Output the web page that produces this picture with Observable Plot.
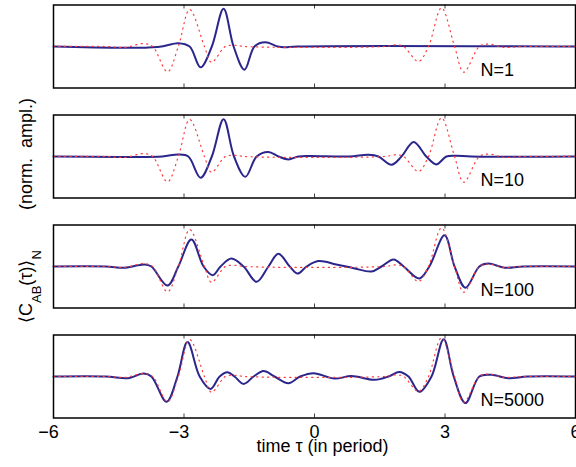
<!DOCTYPE html>
<html><head><meta charset="utf-8">
<script src="https://cdn.jsdelivr.net/npm/d3@7"></script>
<script src="https://cdn.jsdelivr.net/npm/@observablehq/plot@0.6"></script>
<style>
html,body{margin:0;padding:0;background:#fff;overflow:hidden}
#chart{position:relative;width:576px;height:467px}
#chart svg.plot-panel{display:block}
#ylab{position:absolute;left:0;top:0}
</style></head>
<body><div id="chart"></div>
<script>
// ---- tick values / labels ----
const xTicks = [-6, -3, 0, 3, 6];
const panelLabels = ["N=1", "N=10", "N=100", "N=5000"];
const xTitle = "time τ (in period)";

// ---- reference curve (red dotted, same in all panels) ----
const refTau = [-6, -4.8, -4.35, -3.93, -3.72, -3.38, -3.13, -2.87, -2.53, -2.37, -2.05, -1.84, -1.6, 1.6, 1.89, 2.05, 2.39, 2.62, 2.92, 3.22, 3.43, 3.79, 4.0, 4.35, 4.8, 6];
const refAmp = [0, 0, -0.02, 0.07, 0, -0.61, 0, 0.89, 0, -0.38, 0, 0.03, 0, 0, 0.04, 0, -0.36, 0, 0.93, 0, -0.62, 0, 0.06, -0.02, 0, 0];

// ---- averaged correlation, N = 1 ----
const n1Tau = [-6, -3.6, -3.13, -2.87, -2.62, -2.36, -2.09, -1.86, -1.61, -1.38, -1.13, -0.85, -0.7, -0.4, 6];
const n1Amp = [0, -0.01, 0.08, 0, -0.5, 0, 0.91, 0, -0.56, 0, 0.1, 0, -0.02, 0, 0];

// ---- N = 10 ----
const n10Tau = [-6, -4.5, -3.5, -3.13, -2.9, -2.62, -2.36, -2.09, -1.85, -1.59, -1.33, -1.06, -0.83, -0.6, -0.37, -0.1, 0.8, 1.24, 1.47, 1.77, 2.0, 2.28, 2.57, 2.8, 3.03, 3.26, 3.6, 6];
const n10Amp = [0, -0.01, 0, 0.05, 0, -0.51, 0, 0.9, 0, -0.49, 0, 0.11, 0, -0.07, 0, 0.01, 0, 0.04, 0, -0.2, 0, 0.35, 0, -0.19, 0, 0.02, 0, 0];

// ---- N = 100 ----
const n100Tau = [-6, -4.8, -4.37, -3.91, -3.75, -3.38, -3.13, -2.83, -2.55, -2.34, -2.16, -1.91, -1.63, -1.33, -1.06, -0.83, -0.57, -0.39, -0.18, 0.09, 0.5, 0.9, 1.31, 1.54, 1.82, 2.05, 2.41, 2.64, 2.99, 3.22, 3.47, 3.79, 4.0, 4.37, 4.8, 6];
const n100Amp = [0, 0, -0.03, 0.05, 0, -0.46, 0, 0.65, 0, -0.21, 0, 0.19, 0, -0.37, 0, 0.31, 0, -0.17, 0, 0.13, 0.05, -0.04, -0.12, 0, 0.17, 0, -0.29, 0, 0.75, 0, -0.51, 0, 0.07, -0.03, 0, 0];

// ---- N = 5000 ----
const n5000Tau = [-6, -4.8, -4.28, -3.93, -3.75, -3.4, -3.15, -2.92, -2.64, -2.39, -2.18, -2.0, -1.84, -1.63, -1.4, -1.17, -0.92, -0.6, -0.33, -0.02, 0.46, 0.85, 1.38, 1.7, 1.95, 2.16, 2.41, 2.69, 2.97, 3.2, 3.47, 3.79, 4.07, 4.46, 4.9, 6];
const n5000Amp = [0, 0, -0.04, 0.07, 0, -0.61, 0, 0.83, 0, -0.3, 0, 0.1, 0, -0.18, 0, 0.13, 0, -0.16, 0, 0.08, -0.05, 0.01, -0.08, 0, 0.11, 0, -0.37, 0, 0.9, 0, -0.64, 0, 0.04, -0.04, 0, 0];

const seriesTau = [n1Tau, n10Tau, n100Tau, n5000Tau];
const seriesAmp = [n1Amp, n10Amp, n100Amp, n5000Amp];

const toRows = (t, a) => t.map((tau, i) => ({tau, amp: a[i]}));
const ref = toRows(refTau, refAmp);

const BLUE = "#2a268c";
const FONT = "'Liberation Sans', Arial, Helvetica, sans-serif";
const chart = document.getElementById("chart");

seriesTau.forEach((tau, k) => {
  const last = k === seriesTau.length - 1;
  const data = toRows(tau, seriesAmp[k]);
  const marks = [
    Plot.line(data, {x: "tau", y: "amp", curve: "catmull-rom", stroke: BLUE, strokeWidth: 2}),
    Plot.line(ref, {x: "tau", y: "amp", curve: "catmull-rom", stroke: "#ff3a3a", strokeWidth: 1.2, strokeDasharray: "1.2,4.3"}),
    Plot.ruleX(xTicks.slice(1, -1), {insetBottom: 79, stroke: "#444", strokeWidth: 1}),
    Plot.ruleX(xTicks.slice(1, -1), {insetTop: 79, stroke: "#444", strokeWidth: 1}),
    Plot.frame({stroke: "black", strokeWidth: 1.5}),
    Plot.text([panelLabels[k]], {frameAnchor: "bottom-right", textAnchor: "start", lineAnchor: "bottom", dx: -95, dy: -12, fontSize: 18, fill: "black"})
  ];
  if (last) {
    marks.push(
      Plot.text(xTicks.filter(d => d < 0), {x: d => d, text: d => "\u2212" + Math.abs(d), frameAnchor: "bottom", lineAnchor: "top", dy: 7, dx: -5, fontSize: 18, fill: "black"}),
      Plot.text(xTicks.filter(d => d >= 0), {x: d => d, text: d => String(d), frameAnchor: "bottom", lineAnchor: "top", dy: 7, fontSize: 18, fill: "black"}),
      Plot.text([xTitle], {frameAnchor: "bottom", lineAnchor: "top", dy: 21, dx: 8, fontSize: 18, fill: "black"})
    );
  }
  const svg = Plot.plot({
    width: 576,
    height: last ? 137 : 110,
    marginLeft: 53,
    marginRight: 1,
    marginTop: 4.5,
    marginBottom: last ? 49.5 : 22.5,
    x: {domain: [-6, 6], axis: null},
    y: {domain: [-1, 1], axis: null},
    style: {fontFamily: FONT, fontSize: "18px", background: "white", overflow: "visible"},
    marks
  });
  svg.classList.add("plot-panel");
  chart.appendChild(svg);
});

// rotated y-axis label (real text)
const NS = "http://www.w3.org/2000/svg";
const ylab = document.createElementNS(NS, "svg");
ylab.setAttribute("id", "ylab");
ylab.setAttribute("width", "50");
ylab.setAttribute("height", "467");
ylab.style.fontFamily = FONT;
const t1 = document.createElementNS(NS, "text");
t1.setAttribute("transform", "translate(32,323) rotate(-90)");
t1.setAttribute("text-anchor", "start");
t1.setAttribute("font-size", "18");
t1.innerHTML = '⟨C<tspan font-size="13" dy="9">AB</tspan><tspan dy="-9">(τ)⟩</tspan><tspan font-size="13" dy="9">N</tspan>';
const t2 = document.createElementNS(NS, "text");
t2.setAttribute("transform", "translate(32,98) rotate(-90)");
t2.setAttribute("text-anchor", "end");
t2.setAttribute("font-size", "18");
t2.style.whiteSpace = "pre";
t2.textContent = "(norm.  ampl.)";
ylab.appendChild(t1);
ylab.appendChild(t2);
chart.appendChild(ylab);
</script>
</body></html>
